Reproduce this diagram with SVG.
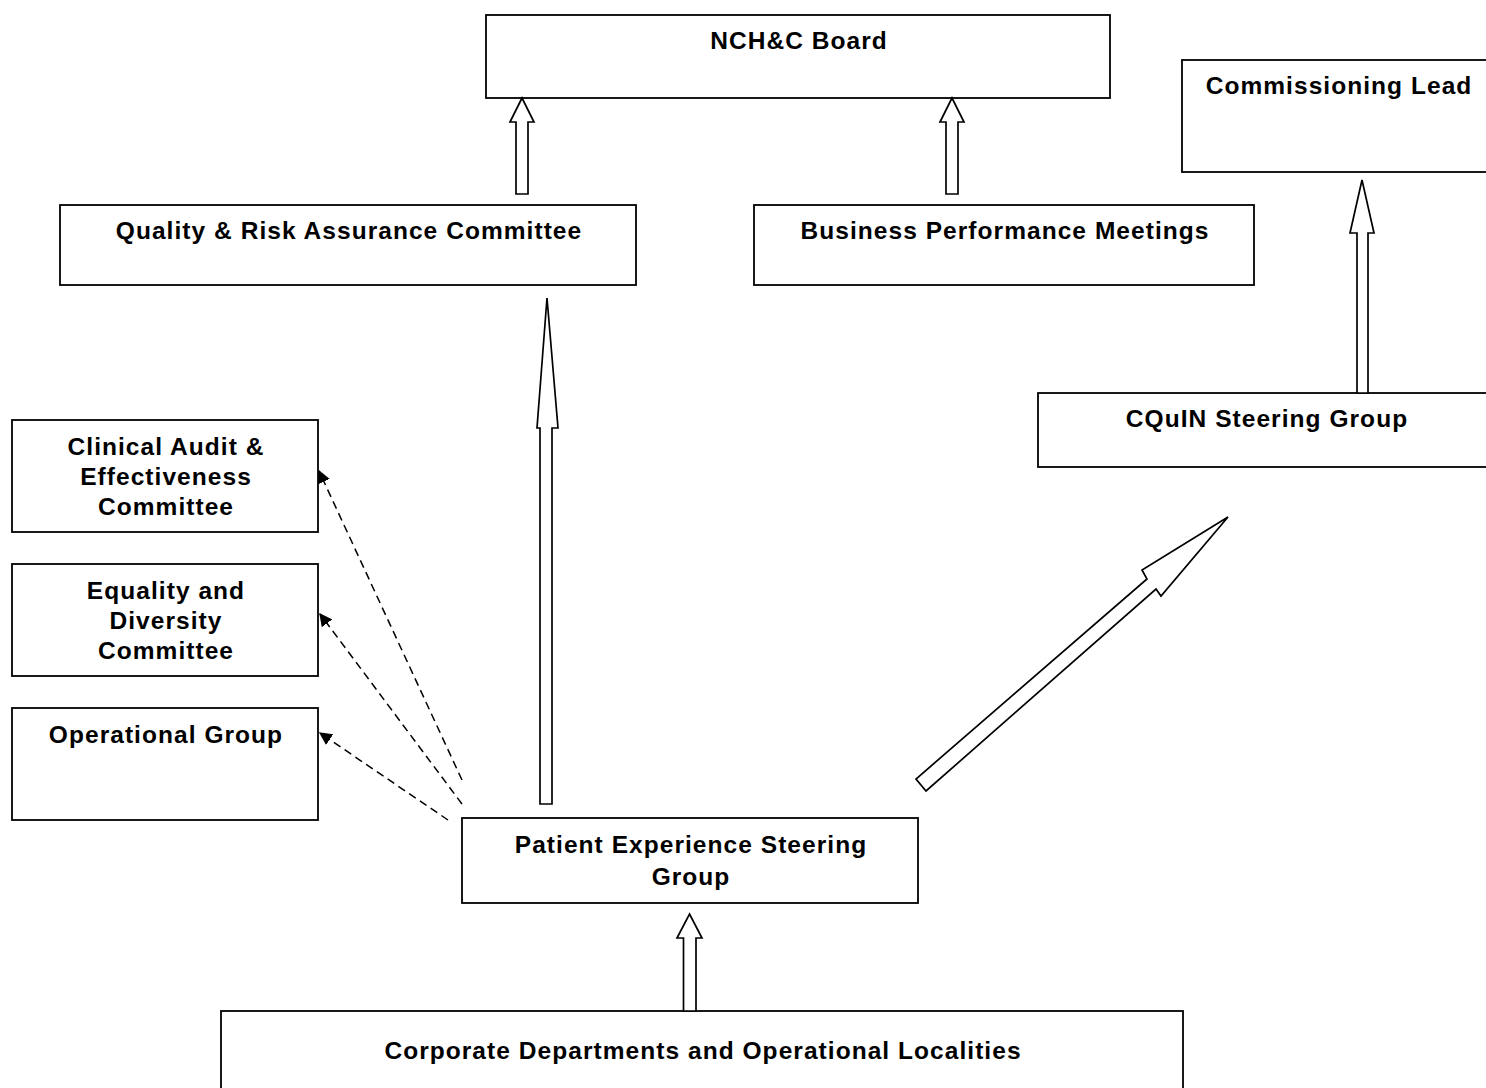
<svg xmlns="http://www.w3.org/2000/svg" width="1486" height="1088" viewBox="0 0 1486 1088">
<defs>
<style>
.box{fill:#fff;stroke:#000;stroke-width:1.8}
.t{font-family:"Liberation Sans",Arial,sans-serif;font-weight:bold;font-size:24.5px;letter-spacing:1.05px;fill:#000;text-anchor:middle}
.blk{fill:#fff;stroke:#000;stroke-width:1.7;stroke-linejoin:miter}
.dash{fill:none;stroke:#000;stroke-width:1.5;stroke-dasharray:8,5}
</style>
<marker id="ah" viewBox="0 0 10 10" refX="9" refY="5" markerWidth="13" markerHeight="13" markerUnits="userSpaceOnUse" orient="auto">
<path d="M0,0 L10,5 L0,10 z" fill="#000"/>
</marker>
</defs>
<rect width="1486" height="1088" fill="#fff"/>
<g id="board"><rect class="box" x="486" y="15" width="624" height="83"/><text class="t" x="799" y="49">NCH&amp;C Board</text></g>
<g id="commissioning"><rect class="box" x="1182" y="60" width="312" height="112"/><text class="t" x="1339" y="94">Commissioning Lead</text></g>
<g id="qra"><rect class="box" x="60" y="205" width="576" height="80"/><text class="t" x="349" y="239">Quality &amp; Risk Assurance Committee</text></g>
<g id="bpm"><rect class="box" x="754" y="205" width="500" height="80"/><text class="t" x="1005" y="239">Business Performance Meetings</text></g>
<g id="cquin"><rect class="box" x="1038" y="393" width="456" height="74"/><text class="t" x="1267" y="427">CQuIN Steering Group</text></g>
<g id="clinical"><rect class="box" x="12" y="420" width="306" height="112"/><text class="t" x="166" y="455">Clinical Audit &amp;</text><text class="t" x="166" y="485">Effectiveness</text><text class="t" x="166" y="515">Committee</text></g>
<g id="equality"><rect class="box" x="12" y="564" width="306" height="112"/><text class="t" x="166" y="599">Equality and</text><text class="t" x="166" y="629">Diversity</text><text class="t" x="166" y="659">Committee</text></g>
<g id="operational"><rect class="box" x="12" y="708" width="306" height="112"/><text class="t" x="166" y="743">Operational Group</text></g>
<g id="pesg"><rect class="box" x="462" y="818" width="456" height="85"/><text class="t" x="691" y="853">Patient Experience Steering</text><text class="t" x="691" y="885">Group</text></g>
<g id="corporate"><rect class="box" x="221" y="1011" width="962" height="90"/><text class="t" x="703" y="1059">Corporate Departments and Operational Localities</text></g>
<g id="connectors">
<polygon class="blk" points="522,98 534,122 528,122 528,194 516,194 516,122 510,122"/>
<polygon class="blk" points="952,98 964,122 958,122 958,194 946,194 946,122 940,122"/>
<polygon class="blk" points="1362,180 1374,233 1368,233 1368,393 1357,393 1357,233 1350,233"/>
<polygon class="blk" points="689.5,914 702,938 696,938 696,1011 683.5,1011 683.5,938 677,938"/>
<polygon class="blk" points="547,298 558,428 552,428 552,804 540,804 540,428 537,428"/>
<polygon class="blk" points="1228,517 1161,596 1156,589 926,791 916,779 1147,579 1142,570"/>
<line class="dash" x1="462" y1="780" x2="319" y2="471" marker-end="url(#ah)"/>
<line class="dash" x1="462" y1="804" x2="320" y2="614" marker-end="url(#ah)"/>
<line class="dash" x1="448" y1="820" x2="320" y2="733" marker-end="url(#ah)"/>
</g>
</svg>
